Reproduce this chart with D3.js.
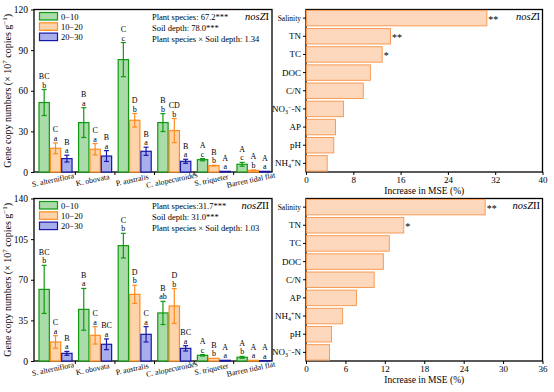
<!DOCTYPE html>
<html>
<head>
<meta charset="utf-8">
<script src="https://cdnjs.cloudflare.com/ajax/libs/d3/7.8.5/d3.min.js"></script>
<style>
  body { margin: 0; background: #fff; }
  svg { display: block; font-family: "Liberation Serif", "Times New Roman", serif; }
</style>
</head>
<body>
<div id="chart"></div>
<script>
"use strict";

// ---- data ----
var species = ["S. alterniflora", "K. obovata", "P. australis", "C. alopecuroides", "S. triqueter", "Barren tidal flat"];
var depths = ["0\u221210", "10\u221220", "20\u221230"];

// nosZI gene copies, one array per soil depth
var nosZI_d1 = [51.3, 36.5, 83.0, 36.5, 9.1, 5.7];
var nosZI_d2 = [17.5, 16.8, 38.2, 30.6, 4.7, 1.2];
var nosZI_d3 = [9.9, 11.8, 15.3, 7.9, 0.5, 0.5];
var nosZI_e1 = [9.6, 11.0, 12.6, 6.6, 0.8, 1.4];
var nosZI_e2 = [4.0, 4.2, 5.0, 8.9, 0.3, 0.3];
var nosZI_e3 = [2.5, 4.0, 3.0, 1.5, 0.1, 0.1];
var nosZI_up = [["BC", "C", "B"], ["B", "C", "B"], ["C", "D", "B"], ["B", "CD", "B"], ["A", "B", "A"], ["A", "A", "A"]];
var nosZI_low = [["b", "a", "a"], ["a", "a", "a"], ["c", "b", "a"], ["b", "b", "a"], ["c", "b", "a"], ["c", "b", "a"]];

// nosZII gene copies
var nosZII_d1 = [61.7, 44.5, 99.4, 41.4, 4.9, 3.2];
var nosZII_d2 = [16.4, 22.1, 57.4, 47.4, 2.3, 0.6];
var nosZII_d3 = [6.6, 14.4, 23.0, 10.9, 0.6, 0.3];
var nosZII_e1 = [20.7, 18.0, 10.6, 10.0, 0.6, 0.8];
var nosZII_e2 = [5.4, 7.5, 7.8, 15.0, 0.2, 0.1];
var nosZII_e3 = [1.7, 4.6, 6.6, 2.3, 0.1, 0.1];
var nosZII_up = [["BC", "C", "B"], ["B", "C", "BC"], ["C", "D", "C"], ["B", "D", "BC"], ["A", "B", "A"], ["A", "A", "A"]];
var nosZII_low = [["b", "a", "a"], ["a", "a", "a"], ["b", "b", "a"], ["ab", "b", "a"], ["c", "b", "a"], ["b", "a", "a"]];

var nosZI_stats = ["Plant species: 67.2***", "Soil depth: 78.0***", "Plant species \u00d7 Soil depth: 1.34"];
var nosZII_stats = ["Plant species:31.7***", "Soil depth: 31.0***", "Plant species \u00d7 Soil depth: 1.03"];

// random forest importance
var rfI_vars = ["Salinity", "TN", "TC", "DOC", "C/N", "NO3", "AP", "pH", "NH4"];
var rfI_vals = [30.5, 14.2, 12.8, 10.8, 9.6, 6.25, 4.9, 4.6, 3.5];
var rfI_sig = ["**", "**", "*", "", "", "", "", "", ""];
var rfI_ticks = [0, 8, 16, 24, 32, 40];

var rfII_vars = ["Salinity", "TN", "TC", "DOC", "C/N", "AP", "NH4", "pH", "NO3"];
var rfII_vals = [27.2, 14.8, 12.6, 11.7, 10.3, 7.6, 5.5, 3.8, 3.5];
var rfII_sig = ["**", "*", "", "", "", "", "", "", ""];
var rfII_ticks = [0, 6, 12, 18, 24, 30, 36];

var barTicksI = [0, 30, 60, 90, 120];
var barTicksII = [0, 35, 70, 105, 140];

// ---- style ----
var fills = ["#a9dca9", "#fed3aa", "#a8aeec"];
var strokes = ["#119911", "#ff8c1e", "#1717a8"];

var svg = d3.select("#chart").append("svg")
  .attr("width", 554)
  .attr("height", 392);

function geneLabel(g, x, y, roman){
  var t = g.append("text").attr("x", x).attr("y", y)
    .attr("text-anchor", "end").attr("font-size", 10.5);
  t.append("tspan").attr("font-style", "italic").text("nosZ");
  t.append("tspan").text(roman);
}

function drawBars(opt){
  var g = svg.append("g");
  var x0 = 34, x1 = 272, y0 = opt.top, y1 = opt.top + 162.5;

  var x = d3.scaleBand().domain(species).range([38.5, 270.5]).paddingInner(0.14).paddingOuter(0);
  var xs = d3.scaleBand().domain([0, 1, 2]).range([0, x.bandwidth()]);
  var y = d3.scaleLinear().domain([0, opt.max]).range([y1, y0]);

  // frame
  g.append("rect").attr("x", x0).attr("y", y0).attr("width", x1 - x0).attr("height", y1 - y0)
    .attr("fill", "none").attr("stroke", "#000").attr("stroke-width", 1.3);

  var yAxis = g.append("g").attr("transform", "translate(" + x0 + ",0)")
    .call(d3.axisLeft(y).tickValues(opt.ticks).tickSize(3).tickPadding(3));
  yAxis.select(".domain").remove();
  yAxis.selectAll("text").attr("font-size", 9.5).attr("font-family", "Liberation Serif");

  // tick marks between groups
  var step = x.step();
  g.selectAll(".xt").data(species.slice(1)).enter().append("line")
    .attr("x1", d => x(d) - (step - x.bandwidth()) / 2)
    .attr("x2", d => x(d) - (step - x.bandwidth()) / 2)
    .attr("y1", y1).attr("y2", y1 + 3).attr("stroke", "#000");

  g.selectAll(".xl").data(species).enter().append("text")
    .attr("transform", d => "translate(" + (x(d) + x.bandwidth() / 2 - 2) + "," + (y1 + 10.5) + ") rotate(-12)")
    .attr("text-anchor", "middle").attr("font-size", 7.8).text(d => d);

  // axis title
  var t = g.append("text")
    .attr("transform", "translate(11," + (y0 + (y1 - y0) / 2) + ") rotate(-90)")
    .attr("text-anchor", "middle").attr("font-size", 10);
  t.append("tspan").text("Gene copy numbers (\u00d7 10");
  t.append("tspan").attr("font-size", 7).attr("dy", -4).text("7");
  t.append("tspan").attr("dy", 4).text(" copies g");
  t.append("tspan").attr("font-size", 7).attr("dy", -4).text("\u22121");
  t.append("tspan").attr("dy", 4).text(")");

  opt.means.forEach(function(vals, k){
    var errs = opt.errs[k];
    var grp = g.append("g");
    grp.selectAll("rect").data(species).enter().append("rect")
      .attr("x", d => x(d) + xs(k) + 0.5)
      .attr("width", xs.bandwidth() - 1)
      .attr("y", (d, i) => y(vals[i]))
      .attr("height", (d, i) => y1 - y(vals[i]))
      .attr("fill", fills[k]).attr("stroke", strokes[k]).attr("stroke-width", 1.2);

    species.forEach(function(d, i){
      var cx = x(d) + xs(k) + xs.bandwidth() / 2;
      var top = y(vals[i] + errs[i]), bot = y(Math.max(0, vals[i] - errs[i]));
      if (errs[i] > 0.2){
        grp.append("line").attr("x1", cx).attr("x2", cx).attr("y1", top).attr("y2", bot)
          .attr("stroke", strokes[k]).attr("stroke-width", 1.2);
        [top, bot].forEach(function(yy){
          grp.append("line").attr("x1", cx - 2.5).attr("x2", cx + 2.5).attr("y1", yy).attr("y2", yy)
            .attr("stroke", strokes[k]).attr("stroke-width", 1.2);
        });
      }
      grp.append("text").attr("x", cx).attr("y", top - 2).attr("text-anchor", "middle")
        .attr("font-size", 8).attr("fill", "#000").text(opt.low[i][k]);
      grp.append("text").attr("x", cx).attr("y", top - 10.5).attr("text-anchor", "middle")
        .attr("font-size", 8).attr("fill", "#000").text(opt.up[i][k]);
    });
  });

  // legend
  depths.forEach(function(d, k){
    g.append("rect").attr("x", 39.5).attr("y", y0 + 3 + k * 10.3).attr("width", 18).attr("height", 7.5)
      .attr("fill", fills[k]).attr("stroke", strokes[k]).attr("stroke-width", 1.2);
    g.append("text").attr("x", 61).attr("y", y0 + 10 + k * 10.3).attr("font-size", 8.5).text(d);
  });

  g.selectAll(".st").data(opt.stats).enter().append("text")
    .attr("x", 152).attr("y", (d, i) => y0 + 10 + i * 11)
    .attr("font-size", 8.5).text(d => d);

  geneLabel(g, 269, y0 + 10, opt.roman);
}

function varLabel(sel, d){
  if (d === "NO3"){
    sel.append("tspan").text("NO");
    sel.append("tspan").attr("font-size", 6).attr("dy", 2).text("3");
    sel.append("tspan").attr("font-size", 6).attr("dy", -5).text("\u2212");
    sel.append("tspan").attr("dy", 3).text("-N");
  } else if (d === "NH4"){
    sel.append("tspan").text("NH");
    sel.append("tspan").attr("font-size", 6).attr("dy", 2).text("4");
    sel.append("tspan").attr("font-size", 6).attr("dy", -5).text("+");
    sel.append("tspan").attr("dy", 3).text("N");
  } else {
    sel.text(d);
  }
}

function drawRF(opt){
  var g = svg.append("g");
  var x0 = 306, x1 = 542.5, y0 = opt.top, y1 = opt.top + 162.5;
  var x = d3.scaleLinear().domain([0, opt.max]).range([x0, x1]);
  var y = d3.scaleBand().domain(opt.vars).range([y0, y1]).paddingInner(0.15).paddingOuter(0.05);

  g.append("rect").attr("x", x0).attr("y", y0).attr("width", x1 - x0).attr("height", y1 - y0)
    .attr("fill", "none").attr("stroke", "#000").attr("stroke-width", 1.3);

  g.selectAll(".bar").data(opt.vars).enter().append("rect")
    .attr("x", x(0) + 0.5).attr("y", d => y(d))
    .attr("width", (d, i) => x(opt.vals[i]) - x(0))
    .attr("height", y.bandwidth())
    .attr("fill", "#fdd8bd").attr("stroke", "#f89b55").attr("stroke-width", 1);

  g.selectAll(".sig").data(opt.vars).enter().append("text")
    .attr("x", (d, i) => x(opt.vals[i]) + 2)
    .attr("y", d => y(d) + y.bandwidth() / 2 + 5)
    .attr("font-size", 10).text((d, i) => opt.sig[i]);

  var xAxis = g.append("g").attr("transform", "translate(0," + y1 + ")")
    .call(d3.axisBottom(x).tickValues(opt.ticks).tickSize(3).tickPadding(2));
  xAxis.select(".domain").remove();
  xAxis.selectAll("text").attr("font-size", 9).attr("font-family", "Liberation Serif");

  var yAxis = g.append("g").attr("transform", "translate(" + x0 + ",0)")
    .call(d3.axisLeft(y).tickSize(3).tickPadding(2).tickFormat(""));
  yAxis.select(".domain").remove();

  g.selectAll(".yl").data(opt.vars).enter().append("text")
    .attr("x", x0 - 5).attr("y", d => y(d) + y.bandwidth() / 2 + 3)
    .attr("text-anchor", "end")
    .attr("font-size", d => d === "Salinity" ? 7.5 : 9)
    .each(function(d){ varLabel(d3.select(this), d); });

  g.append("text").attr("x", (x0 + x1) / 2).attr("y", y1 + 22)
    .attr("text-anchor", "middle").attr("font-size", 9.5).text("Increase in MSE (%)");

  geneLabel(g, 540, y0 + 10, opt.roman);
}

drawBars({top: 9.5, max: 120, ticks: barTicksI, roman: "I",
  means: [nosZI_d1, nosZI_d2, nosZI_d3], errs: [nosZI_e1, nosZI_e2, nosZI_e3],
  up: nosZI_up, low: nosZI_low, stats: nosZI_stats});
drawBars({top: 198.5, max: 140, ticks: barTicksII, roman: "II",
  means: [nosZII_d1, nosZII_d2, nosZII_d3], errs: [nosZII_e1, nosZII_e2, nosZII_e3],
  up: nosZII_up, low: nosZII_low, stats: nosZII_stats});

drawRF({top: 9.5, max: 40, ticks: rfI_ticks, vars: rfI_vars, vals: rfI_vals, sig: rfI_sig, roman: "I"});
drawRF({top: 198.5, max: 36, ticks: rfII_ticks, vars: rfII_vars, vals: rfII_vals, sig: rfII_sig, roman: "II"});
</script>
</body>
</html>
